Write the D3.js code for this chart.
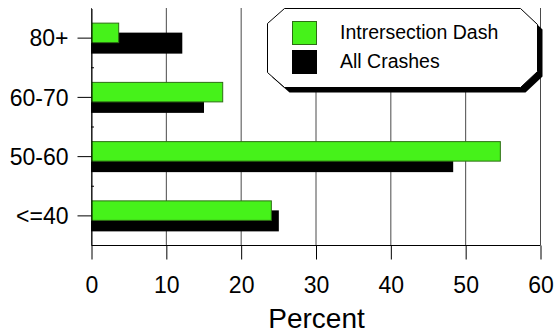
<!DOCTYPE html>
<html>
<head>
<meta charset="utf-8">
<script src="https://cdn.jsdelivr.net/npm/d3@7"></script>
<style>
  html, body { margin: 0; padding: 0; background: #fff; }
  svg { display: block; font-family: "Liberation Sans", Arial, Helvetica, sans-serif; }
</style>
</head>
<body>
<svg id="chart" width="555" height="335"></svg>
<script>
const categories = ["80+", "60-70", "50-60", "<=40"];
const intersectionDash = [3.7, 17.6, 54.7, 24.1];
const allCrashes = [12.2, 15.1, 48.4, 25.1];
const xTicks = [0, 10, 20, 30, 40, 50, 60];
const seriesNames = ["Intrersection Dash", "All Crashes"];
const seriesColors = ["#46f21a", "#000000"];

(function () {
const svg = d3.select("#chart");
const pL = 91, pR = 540, pT = 8, pB = 245;

const x = d3.scaleLinear().domain([0, 60]).range([pL, pR]);
const y = d3.scaleBand().domain(categories).range([pT, pB]);
const bw = y.bandwidth();

// vertical gridlines
svg.append("g").selectAll("line").data(xTicks).join("line")
  .attr("x1", d => x(d) + 0.5).attr("x2", d => x(d) + 0.5)
  .attr("y1", pT).attr("y2", pB)
  .attr("stroke", "#4a4a4a").attr("stroke-width", 1);

// bars: black (behind, offset down), green (front)
const rows = categories.map((c, i) => ({ c, g: intersectionDash[i], k: allCrashes[i] }));
svg.append("g").selectAll("rect").data(rows).join("rect")
  .attr("x", x(0)).attr("y", d => y(d.c) + bw / 2 - 5)
  .attr("width", d => x(d.k) - x(0)).attr("height", 21)
  .attr("fill", seriesColors[1]);
svg.append("g").selectAll("rect").data(rows).join("rect")
  .attr("x", x(0) + 0.5).attr("y", d => y(d.c) + bw / 2 - 14.5)
  .attr("width", d => x(d.g) - x(0) - 0.5).attr("height", 19.5)
  .attr("fill", seriesColors[0]).attr("stroke", "#2d6e14").attr("stroke-width", 1);

// x axis
const xAxis = svg.append("g").attr("transform", `translate(0.5,${pB + 0.5})`)
  .call(d3.axisBottom(x).tickValues(xTicks).tickSize(14).tickPadding(17).tickSizeOuter(0));
xAxis.select(".domain").attr("stroke", "#000").attr("d", `M${pL},0H${pR}`);
xAxis.selectAll(".tick line").attr("stroke", "#000");
xAxis.selectAll("text").attr("font-size", 23).attr("fill", "#000")
  .attr("font-family", "'Liberation Sans', Arial, sans-serif");

// y axis
const yAxis = svg.append("g").attr("transform", `translate(${pL + 0.5},0.5)`)
  .call(d3.axisLeft(y).tickSize(14).tickPadding(9).tickSizeOuter(0));
yAxis.select(".domain").attr("stroke", "#000");
yAxis.selectAll(".tick line").attr("stroke", "#000");
yAxis.selectAll("text").attr("font-size", 23).attr("fill", "#000").attr("dy", "0.36em")
  .attr("font-family", "'Liberation Sans', Arial, sans-serif");
// minor inward ticks at category boundaries
svg.append("g").selectAll("line").data(categories.slice(1)).join("line")
  .attr("x1", pL).attr("x2", pL + 3)
  .attr("y1", d => y(d) + 0.5)
  .attr("y2", d => y(d) + 0.5)
  .attr("stroke", "#000");

// x label
svg.append("text").attr("x", (pL + pR) / 2 + 1).attr("y", 328)
  .attr("text-anchor", "middle").attr("font-size", 28).text("Percent");

// legend
const L = { x0: 267, y0: 8, x1: 537, y1: 87, c: 17 };
const oct = (dx, dy) => [
  [L.x0 + L.c, L.y0], [L.x1 - L.c, L.y0], [L.x1, L.y0 + 16], [L.x1, L.y1 - 16],
  [L.x1 - L.c, L.y1], [L.x0 + L.c, L.y1], [L.x0, L.y1 - 15], [L.x0, L.y0 + 15]
].map(p => [p[0] + dx + 0.5, p[1] + dy + 0.5]);
const line = d3.line().curve(d3.curveLinearClosed);
svg.append("path").attr("d", line(oct(5, 5))).attr("fill", "#000");
svg.append("path").attr("d", line(oct(0, 0))).attr("fill", "#fff").attr("stroke", "#000").attr("stroke-width", 1);

const leg = svg.append("g").selectAll("g").data(seriesNames).join("g")
  .attr("transform", (d, i) => `translate(292,${21 + i * 29})`);
leg.append("rect").attr("x", 0.5).attr("y", 0.5).attr("width", 24).attr("height", 23)
  .attr("fill", (d, i) => seriesColors[i]).attr("stroke", (d, i) => i === 0 ? "#2d6e14" : "#000");
leg.append("text").attr("x", 48).attr("y", 18).attr("font-size", 19.5).text(d => d);
})();
</script>
</body>
</html>
